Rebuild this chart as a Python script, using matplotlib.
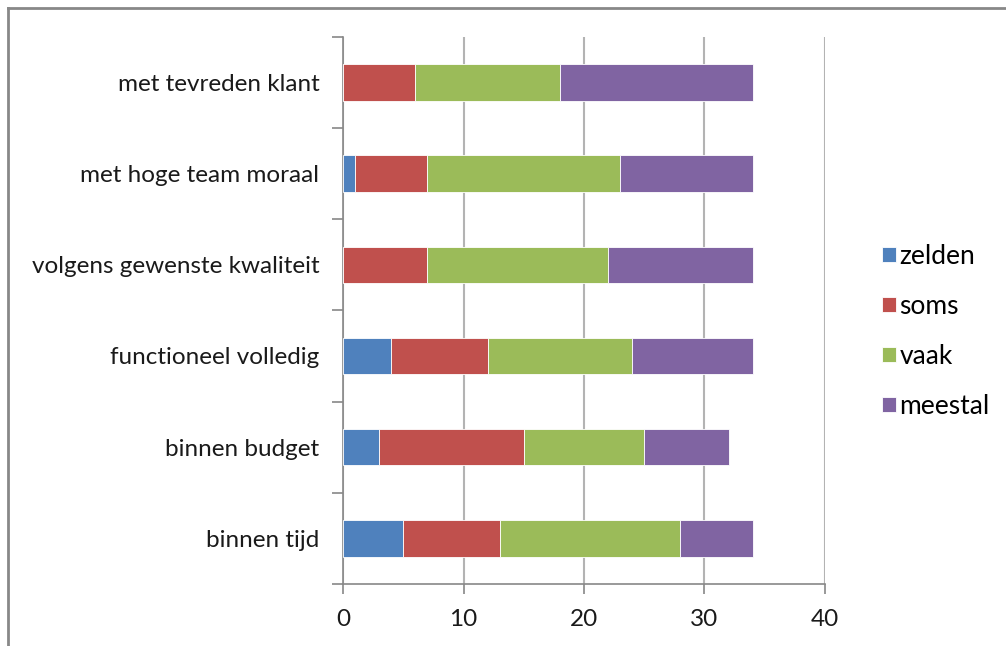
import numpy as np
import matplotlib.pyplot as plt
from matplotlib.lines import Line2D

# Categories, bottom to top
categories = ["binnen tijd", "binnen budget", "functioneel volledig",
              "volgens gewenste kwaliteit", "met hoge team moraal", "met tevreden klant"]
series_names = ["zelden", "soms", "vaak", "meestal"]
zelden = [5, 3, 4, 0, 1, 0]
soms = [8, 12, 8, 7, 6, 6]
vaak = [15, 10, 12, 15, 16, 12]
meestal = [6, 7, 10, 12, 11, 16]
colors = ["#4F81BD", "#C0504D", "#9BBB59", "#8064A2"]

plt.rcParams['font.family'] = ['Lato', 'DejaVu Sans']

fig = plt.figure(figsize=(10.06, 6.46), dpi=100)
ax = fig.add_axes([0.341, 0.096, 0.479, 0.847])

y = np.arange(len(categories))
left = np.zeros(len(categories))
for name, vals, c in zip(series_names, [zelden, soms, vaak, meestal], colors):
    ax.barh(y, vals, left=left, height=0.4, color=c, edgecolor="#ffffff",
            linewidth=0.6, label=name, zorder=3)
    left += np.array(vals)

ax.set_xlim(0, 40)
ax.set_ylim(-0.5, len(categories) - 0.5)
ax.set_xticks([0, 10, 20, 30, 40])
ax.set_yticks(y)
ax.set_yticklabels(categories)
ax.set_yticks(np.arange(-0.5, len(categories)), minor=True)
ax.tick_params(axis='y', which='major', length=0, pad=17, labelsize=17.5, colors="#1a1a1a")
ax.tick_params(axis='y', which='minor', length=8, width=1.2, color="#888888")
ax.tick_params(axis='x', length=7, width=1.2, color="#888888", pad=11,
               labelsize=17.5, labelcolor="#1a1a1a")

ax.grid(axis='x', color="#b3b3b3", linewidth=1.5, zorder=0)
for s in ["top", "right"]:
    ax.spines[s].set_visible(False)
for s in ["left", "bottom"]:
    ax.spines[s].set_color("#888888")
    ax.spines[s].set_linewidth(1.2)

leg = ax.legend(loc="center left", bbox_to_anchor=(1.07, 0.462), frameon=False,
                fontsize=19, handlelength=0.5, handleheight=0.5,
                handletextpad=0.15, labelspacing=0.95)

# outer border (top and left edges)
fig.add_artist(Line2D([0.008, 1.0], [0.9875, 0.9875], transform=fig.transFigure,
                      color="#888888", linewidth=2))
fig.add_artist(Line2D([0.008, 0.008], [0.0, 0.9875], transform=fig.transFigure,
                      color="#888888", linewidth=2))

fig.savefig("out.png", dpi=100)
